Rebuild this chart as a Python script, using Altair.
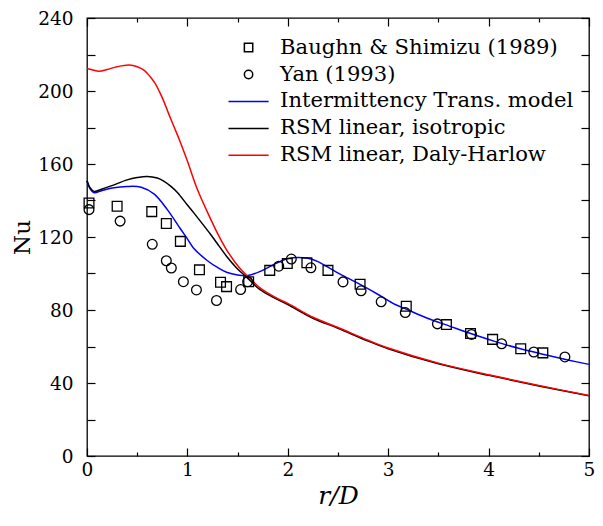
import altair as alt
import pandas as pd

# ---------------- data ----------------
series_names = [
    "Baughn & Shimizu (1989)",
    "Yan (1993)",
    "Intermittency Trans. model",
    "RSM linear, isotropic",
    "RSM linear, Daly-Harlow",
]
series_colors = ["black", "black", "#0000ff", "black", "#ff0000"]

baughn_r = [0.02, 0.30, 0.645, 0.79, 0.93, 1.12, 1.33, 1.39, 1.61, 1.82, 1.995, 2.19, 2.40, 2.72, 3.18, 3.58, 3.82, 4.04, 4.32, 4.54]
baughn_nu = [138.6, 136.8, 133.9, 127.4, 117.6, 102.0, 95.2, 92.8, 95.5, 101.7, 105.5, 105.9, 101.7, 94.1, 82.1, 72.0, 67.1, 63.9, 58.8, 56.5]

yan_r = [0.02, 0.33, 0.65, 0.79, 0.84, 0.96, 1.09, 1.29, 1.53, 1.60, 1.91, 2.035, 2.23, 2.55, 2.73, 2.93, 3.17, 3.49, 3.83, 4.13, 4.45, 4.76]
yan_nu = [135.0, 128.7, 116.0, 107.0, 103.0, 95.5, 91.0, 85.2, 91.2, 95.5, 104.0, 107.9, 103.1, 95.4, 90.5, 84.5, 78.6, 72.4, 66.6, 61.5, 57.0, 54.3]

inter_r = [0, 0.03, 0.07, 0.15, 0.25, 0.4, 0.54, 0.67, 0.8, 0.93, 1.0, 1.06, 1.2, 1.3, 1.39, 1.5, 1.6, 1.72, 1.82, 1.89,
           2.0, 2.1, 2.2, 2.3, 2.4, 2.55, 2.72, 2.9, 3.07, 3.18, 3.3, 3.47, 3.57, 3.8, 4.06, 4.3, 4.56, 4.8, 5.0]
inter_nu = [150.8, 146.5, 144.3, 145.5, 146.8, 147.7, 147.3, 143.5, 135.0, 124.5, 119.0, 114.0, 107.0, 103.3, 100.7, 99.2, 98.9, 101.0, 103.8, 105.7,
            108.2, 108.8, 108.3, 106.5, 103.5, 98.8, 94.0, 88.5, 83.0, 80.5, 77.5, 73.8, 72.0, 67.5, 62.8, 59.0, 55.5, 52.5, 50.2]

iso_r = [0, 0.03, 0.07, 0.15, 0.24, 0.4, 0.5, 0.6, 0.7, 0.76, 0.83, 0.9, 1.0, 1.06, 1.16, 1.23, 1.29, 1.39, 1.5, 1.59,
         1.72, 1.89, 2.0, 2.25, 2.5, 2.8, 3.0, 3.5, 4.0, 4.5, 5.0]
iso_nu = [150.8, 147.0, 145.0, 146.3, 148.0, 151.3, 152.6, 153.2, 152.3, 150.8, 148.0, 144.4, 137.5, 133.5, 126.5, 121.5, 117.0, 109.5, 102.5, 98.0,
          91.3, 86.0, 83.0, 75.5, 70.0, 63.0, 58.8, 50.5, 44.2, 38.4, 33.0]

dh_r = [0, 0.05, 0.12, 0.2, 0.3, 0.42, 0.5, 0.57, 0.63, 0.68, 0.72, 0.76, 0.81, 0.87, 0.92, 1.0, 1.1, 1.23, 1.3, 1.39,
        1.52, 1.62, 1.72, 1.89, 2.0, 2.25, 2.5, 2.8, 3.0, 3.5, 4.0, 4.5, 5.0]
dh_nu = [212.3, 211.6, 210.8, 211.8, 213.3, 214.2, 213.3, 211.3, 207.8, 204.0, 199.8, 195.0, 188.0, 180.0, 173.3, 161.6, 146.0, 130.0, 122.0, 113.0,
         103.0, 97.5, 92.3, 86.5, 83.6, 76.0, 70.4, 63.4, 59.2, 50.9, 44.5, 38.6, 33.2]

x_major = [0, 1, 2, 3, 4, 5]
x_minor = [0.5, 1.5, 2.5, 3.5, 4.5]
y_labels = [0, 40, 80, 120, 160, 200, 240]
y_ticks = [0, 20, 40, 60, 80, 100, 120, 140, 160, 180, 200, 220, 240]

# ---------------- tables ----------------
pts = pd.concat([
    pd.DataFrame({"r": baughn_r, "Nu": baughn_nu, "series": series_names[0]}),
    pd.DataFrame({"r": yan_r, "Nu": yan_nu, "series": series_names[1]}),
])
lines = pd.concat([
    pd.DataFrame({"r": inter_r, "Nu": inter_nu, "series": series_names[2], "o": range(len(inter_r))}),
    pd.DataFrame({"r": iso_r, "Nu": iso_nu, "series": series_names[3], "o": range(len(iso_r))}),
    pd.DataFrame({"r": dh_r, "Nu": dh_nu, "series": series_names[4], "o": range(len(dh_r))}),
])

W, H = 502, 438
FONT = "DejaVu Serif"

xs = alt.Scale(domain=[0, 5], nice=False, zero=False)
ys = alt.Scale(domain=[0, 240], nice=False)

line_path = "M-4.8,0H4.8"
color_enc = alt.Color(
    "series:N",
    scale=alt.Scale(domain=series_names, range=series_colors),
    legend=alt.Legend(
        title=None, orient="none", legendX=151, legendY=19,
        labelFont=FONT, labelFontSize=21.1, labelColor="black",
        symbolSize=70, symbolStrokeWidth=1.5, labelOffset=21,
        rowPadding=4.95, padding=0, labelLimit=400,
    ),
)
shape_enc = alt.Shape(
    "series:N",
    scale=alt.Scale(domain=series_names,
                    range=["square", "circle", line_path, line_path, line_path]),
)

def tick_axis(orient, offset, values, size):
    return alt.Axis(orient=orient, offset=offset, values=values, tickSize=size,
                    labels=False, domain=False, grid=False, title=None,
                    tickColor="black", tickWidth=1.2)

line_layer = alt.Chart(lines).mark_line(strokeWidth=1.5, interpolate="catmull-rom").encode(
    x=alt.X("r:Q", scale=xs, axis=alt.Axis(
        orient="bottom", values=x_major, format="d", tickSize=0, labelPadding=4,
        labelFlush=False, domain=False, grid=False, title="r/D", titleFont=FONT,
        titleFontStyle="italic", titleFontWeight="normal", titleFontSize=25, titlePadding=5,
        labelFont=FONT, labelFontSize=18.5, labelColor="black", titleColor="black")),
    y=alt.Y("Nu:Q", scale=ys, axis=alt.Axis(
        orient="left", values=y_labels, tickSize=0, labelPadding=14, labelFlush=False,
        domain=False, grid=False, title="Nu", titleFont=FONT, titleFontWeight="normal",
        titleFontSize=23, titlePadding=3, labelFont=FONT, labelFontSize=18.5,
        labelColor="black", titleColor="black")),
    color=color_enc,
    order="o:Q",
)

point_layer = alt.Chart(pts).mark_point(filled=False, size=95, strokeWidth=1.3, opacity=1).encode(
    x=alt.X("r:Q", scale=xs, axis=tick_axis("top", -H, x_major, 8)),
    y=alt.Y("Nu:Q", scale=ys, axis=tick_axis("right", -W, y_ticks, 8)),
    color=color_enc,
    shape=shape_enc,
)

tick_layer_a = alt.Chart(pts).mark_point(opacity=0).encode(
    x=alt.X("r:Q", scale=xs, axis=tick_axis("bottom", -H, x_major, 8)),
    y=alt.Y("Nu:Q", scale=ys, axis=tick_axis("left", -W, y_ticks, 8)),
)
tick_layer_b = alt.Chart(pts).mark_point(opacity=0).encode(
    x=alt.X("r:Q", scale=xs, axis=tick_axis("top", -H, x_minor, 4)),
    y=alt.Y("Nu:Q", scale=ys, axis=None),
)
tick_layer_c = alt.Chart(pts).mark_point(opacity=0).encode(
    x=alt.X("r:Q", scale=xs, axis=tick_axis("bottom", -H, x_minor, 4)),
    y=alt.Y("Nu:Q", scale=ys, axis=None),
)

chart = alt.layer(line_layer, point_layer, tick_layer_a, tick_layer_b, tick_layer_c).resolve_axis(
    x="independent", y="independent"
).properties(
    width=W, height=H,
    autosize=alt.AutoSizeParams(type="none"),
    padding={"left": 79, "top": 10, "right": 6, "bottom": 62},
    background="white",
).configure_view(
    stroke="black", strokeWidth=1.3
)

chart.save("out.html", embed_options={"renderer": "svg", "actions": False})
